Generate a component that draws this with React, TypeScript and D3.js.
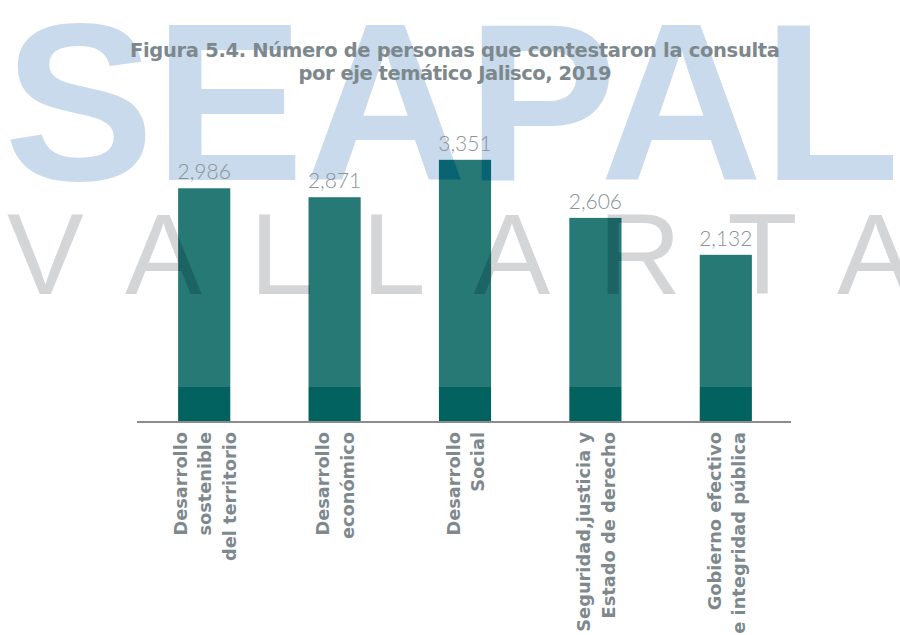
import React from 'react';
import * as d3 from 'd3';

const categories: string[][] = [
  ['Desarrollo', 'sostenible', 'del territorio'],
  ['Desarrollo', 'económico'],
  ['Desarrollo', 'Social'],
  ['Seguridad,justicia y', 'Estado de derecho'],
  ['Gobierno efectivo', 'e integridad pública'],
];
const values: number[] = [2986, 2871, 3351, 2606, 2132];
const titleLines: string[] = [
  'Figura 5.4. Número de personas que contestaron la consulta',
  'por eje temático Jalisco, 2019',
];
const watermarkTop = 'SEAPAL';
const watermarkBottomFirst = 'V';
const watermarkBottomRest = 'ALLARTA';
const yMax = 3400;

export default function App() {
  const W = 900;
  const H = 635;
  const baseline = 421;
  const layerBottom = 387;
  const x = d3
    .scaleBand<number>()
    .domain(d3.range(values.length))
    .range([139, 791])
    .paddingInner(0.6)
    .paddingOuter(0.3);
  const y = d3.scaleLinear().domain([0, yMax]).range([baseline, 156]);
  const fmt = d3.format(',');
  const lineGap = 24.5;
  const titleWidths = [650, 313];

  const wmTop = (fill: string, opacity?: number) => (
    <text
      x={4}
      y={180}
      fontFamily="'Liberation Sans', Arial, sans-serif"
      fontWeight={700}
      fontSize={225}
      fill={fill}
      opacity={opacity}
    >
      {watermarkTop}
    </text>
  );
  const wmBottom = (fill: string, opacity?: number) => (
    <g
      fontFamily="'Liberation Sans', Arial, sans-serif"
      fontWeight={400}
      fontSize={115}
      fill={fill}
      opacity={opacity}
    >
      <text x={7} y={294}>{watermarkBottomFirst}</text>
      <text x={125} y={294} letterSpacing={48}>{watermarkBottomRest}</text>
    </g>
  );

  return (
    <svg
      width={W}
      height={H}
      viewBox={`0 0 ${W} ${H}`}
      style={{ position: 'absolute', left: 0, top: 0, background: '#ffffff' }}
    >
      <defs>
        <mask id="wmMask" maskUnits="userSpaceOnUse" x={0} y={0} width={W} height={H}>
          <rect x={0} y={0} width={W} height={layerBottom} fill="white" />
          {wmTop('black')}
          {wmBottom('black')}
        </mask>
      </defs>
      <rect x={0} y={0} width={W} height={H} fill="#ffffff" />

      {/* bars */}
      {values.map((v, i) => (
        <rect
          key={i}
          x={x(i)}
          y={y(v)}
          width={x.bandwidth()}
          height={baseline - y(v)}
          fill="#02625F"
        />
      ))}

      {/* watermark layer */}
      <rect x={0} y={0} width={W} height={layerBottom} fill="#ffffff" opacity={0.145} mask="url(#wmMask)" />
      {wmTop('rgb(30,105,176)', 0.24)}
      {wmBottom('rgb(100,104,111)', 0.27)}

      {/* axis line */}
      <line x1={137} x2={791} y1={422} y2={422} stroke="#8C8C8C" strokeWidth={2} />

      {/* title */}
      {titleLines.map((t, i) => (
        <text
          key={i}
          x={455}
          y={56.5 + i * 23.5}
          textAnchor="middle"
          fontFamily="'DejaVu Sans', sans-serif"
          fontWeight={700}
          fontSize={19.5}
          textLength={titleWidths[i]}
          lengthAdjust="spacing"
          fill="#7D888D"
        >
          {t}
        </text>
      ))}

      {/* value labels */}
      {values.map((v, i) => (
        <text
          key={i}
          x={(x(i) as number) + x.bandwidth() / 2}
          y={y(v) - 9}
          textAnchor="middle"
          fontFamily="Lato, 'Noto Sans', sans-serif"
          fontWeight={300}
          fontSize={21}
          fill="#8A9397"
        >
          {fmt(v)}
        </text>
      ))}

      {/* category labels */}
      {categories.map((lines, i) => {
        const cx = (x(i) as number) + x.bandwidth() / 2;
        return (
          <g key={i} transform={`translate(${cx},432) rotate(-90)`}>
            {lines.map((l, j) => (
              <text
                key={j}
                x={0}
                y={(j - (lines.length - 1) / 2) * lineGap + 7}
                textAnchor="end"
                fontFamily="'DejaVu Sans', sans-serif"
                fontWeight={700}
                fontSize={17.8}
                fill="#7E898E"
              >
                {l}
              </text>
            ))}
          </g>
        );
      })}
    </svg>
  );
}
